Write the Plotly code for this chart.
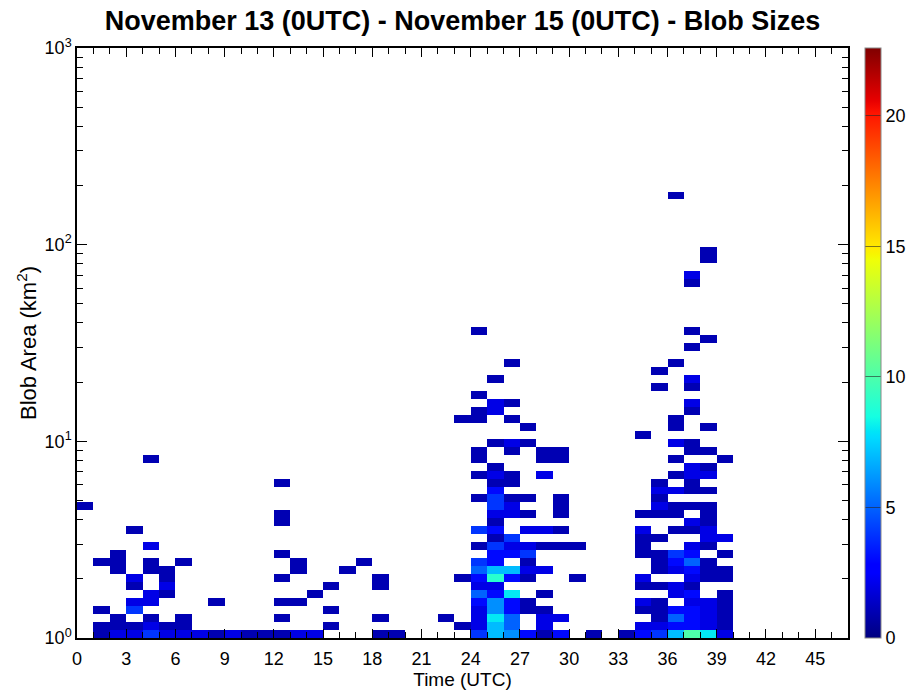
import numpy as np
import plotly.graph_objects as go

# Histogram grid: 1-hour time bins, 74 log-spaced area bins from 1 to 1000 km^2
N_HOURS = 47
area_edges = np.logspace(0, 3, 75)
hour_edges = np.arange(N_HOURS + 1)

# Occupied cells: for each active hour, the area-bin indices and blob counts
active_hours = [0, 1, 2, 3, 4, 5, 6, 7, 8, 9, 10, 11, 12, 13, 14, 15, 16, 17, 18, 19,
                22, 23, 24, 25, 26, 27, 28, 29, 30, 31,
                33, 34, 35, 36, 37, 38, 39]

area_bins = [
    [16],
    [0, 1, 3, 9],
    [0, 1, 2, 8, 9, 10],
    [0, 1, 3, 4, 6, 7, 13],
    [0, 1, 2, 4, 5, 8, 9, 11, 22],
    [0, 1, 5, 6, 7, 8],
    [0, 1, 2, 9],
    [0],
    [0, 4],
    [0],
    [0],
    [0],
    [0, 2, 4, 7, 10, 14, 15, 19],
    [0, 4, 8, 9],
    [0, 5],
    [1, 3, 6],
    [8],
    [9],
    [0, 2, 6, 7],
    [0],
    [2],
    [1, 7, 27],
    [0, 1, 2, 3, 4, 5, 6, 7, 8, 9, 11, 13, 17, 20, 22, 23, 27, 28, 30, 38],
    [0, 1, 2, 3, 4, 5, 6, 7, 8, 9, 10, 11, 12, 13, 14, 15, 16, 17, 18, 19, 20, 21, 24, 28, 29, 32],
    [0, 1, 2, 3, 4, 5, 7, 8, 10, 11, 12, 15, 16, 17, 19, 20, 23, 24, 27, 29, 34],
    [0, 3, 4, 7, 8, 9, 10, 11, 13, 15, 17, 24, 26],
    [0, 1, 2, 3, 5, 8, 11, 13, 20, 22, 23],
    [0, 2, 11, 13, 15, 16, 17, 22, 23],
    [7, 11],
    [0],
    [0],
    [0, 1, 3, 4, 6, 7, 10, 11, 12, 13, 15, 25],
    [0, 1, 2, 3, 4, 6, 8, 9, 10, 12, 15, 16, 17, 18, 19, 31, 33],
    [0, 1, 2, 3, 5, 6, 8, 9, 10, 13, 15, 16, 18, 20, 22, 24, 26, 27, 34, 55],
    [0, 1, 2, 3, 4, 5, 6, 7, 8, 9, 10, 11, 13, 14, 16, 18, 19, 20, 21, 23, 24, 28, 29, 31, 32, 36, 38, 44, 45],
    [0, 1, 2, 3, 4, 7, 8, 9, 11, 12, 13, 14, 15, 16, 18, 20, 21, 23, 26, 37, 47, 48],
    [0, 1, 2, 3, 4, 5, 7, 8, 10, 12, 22],
]

blob_counts = [
    [1],
    [1, 1, 1, 1],
    [2, 1, 1, 1, 1, 1],
    [2, 1, 4, 2, 1, 2, 1],
    [4, 2, 1, 2, 2, 1, 1, 2, 1],
    [2, 1, 1, 2, 1, 1],
    [2, 1, 1, 1],
    [2],
    [1, 1],
    [2],
    [1],
    [1],
    [1, 1, 1, 1, 1, 1, 1, 1],
    [2, 1, 1, 1],
    [2, 1],
    [1, 1, 1],
    [1],
    [1],
    [1, 1, 1, 1],
    [1],
    [1],
    [1, 1, 1],
    [4, 2, 2, 2, 3, 5, 2, 3, 5, 4, 1, 4, 1, 1, 1, 1, 1, 1, 1, 1],
    [7, 7, 8, 6, 6, 3, 2, 9, 7, 3, 3, 4, 1, 3, 1, 2, 4, 4, 3, 1, 2, 1, 1, 2, 2, 1],
    [6, 5, 5, 3, 3, 8, 3, 7, 3, 2, 4, 2, 2, 1, 1, 1, 1, 2, 1, 1, 1],
    [3, 1, 1, 1, 2, 1, 4, 2, 2, 1, 1, 1, 1],
    [1, 2, 2, 1, 1, 2, 1, 2, 2, 1, 1],
    [3, 2, 1, 1, 1, 1, 1, 1, 1],
    [1, 1],
    [1],
    [1],
    [3, 2, 1, 2, 1, 2, 1, 1, 1, 2, 1, 1],
    [4, 2, 1, 1, 1, 1, 1, 1, 1, 1, 1, 2, 1, 2, 1, 1, 1],
    [7, 3, 5, 3, 2, 2, 2, 3, 4, 1, 1, 1, 2, 1, 1, 2, 1, 1, 1, 1],
    [10, 3, 3, 3, 2, 3, 1, 2, 3, 5, 3, 2, 1, 2, 1, 1, 1, 2, 2, 1, 1, 1, 2, 1, 2, 1, 1, 1, 2],
    [8, 2, 2, 2, 2, 1, 1, 1, 1, 2, 2, 1, 1, 1, 1, 2, 1, 1, 1, 1, 1, 1],
    [2, 1, 1, 1, 1, 1, 1, 1, 1, 2, 1],
]

x_tick_vals = list(range(0, 46, 3))
y_tick_vals = [1, 10, 100, 1000]
y_tick_text = ["10<sup>0</sup>", "10<sup>1</sup>", "10<sup>2</sup>", "10<sup>3</sup>"]
cbar_ticks = [0, 5, 10, 15, 20]
COUNT_MAX = 22.6

# Empty cells stay blank (None)
z = [[None] * N_HOURS for _ in range(len(area_edges) - 1)]
for hour, bins, counts in zip(active_hours, area_bins, blob_counts):
    for b, c in zip(bins, counts):
        z[b][hour] = c

# Jet-style colour table built from its piecewise-linear channel definitions
def _channel(points, s):
    xs, vs = zip(*points)
    return float(np.interp(s, xs, vs))

red_pts = [(0, 0), (0.35, 0), (0.66, 1), (0.89, 1), (1, 0.5)]
green_pts = [(0, 0), (0.125, 0), (0.375, 1), (0.64, 1), (0.91, 0), (1, 0)]
blue_pts = [(0, 0.5), (0.11, 1), (0.34, 1), (0.65, 0), (1, 0)]
stops = sorted({p for pts in (red_pts, green_pts, blue_pts) for p, _ in pts})
jet = [[s, "rgb({:d},{:d},{:d})".format(
    round(255 * _channel(red_pts, s)),
    round(255 * _channel(green_pts, s)),
    round(255 * _channel(blue_pts, s)))] for s in stops]

FONT = "Liberation Sans, Arial, sans-serif"

fig = go.Figure(go.Heatmap(
    x=hour_edges,
    y=area_edges,
    z=z,
    zmin=0,
    zmax=COUNT_MAX,
    colorscale=jet,
    hoverongaps=False,
    colorbar=dict(
        x=1.022, xanchor="left", xpad=0,
        y=0.5, yanchor="middle", len=1.0, lenmode="fraction",
        ypad=0,
        thickness=16,
        outlinewidth=1, outlinecolor="#888888",
        tickvals=cbar_ticks,
        ticks="inside", ticklen=16, tickwidth=1, tickcolor="rgba(40,40,40,0.6)",
        tickfont=dict(family=FONT, size=18, color="black"),
    ),
))

axis_common = dict(
    showline=True, linecolor="black", linewidth=1.5,
    mirror="ticks", ticks="inside", tickcolor="black", tickwidth=1.2,
    showgrid=False, zeroline=False,
    tickfont=dict(family=FONT, size=18, color="black"),
)

fig.update_xaxes(
    range=[0, N_HOURS],
    tickvals=x_tick_vals,
    ticklen=9,
    ticklabelstandoff=4,
    minor=dict(dtick=1, tick0=0, ticks="inside", ticklen=6, tickcolor="black", tickwidth=1.2),
    title=dict(text="Time (UTC)", font=dict(family=FONT, size=19, color="black"), standoff=2),
    **axis_common,
)

minor_y = [m * 10 ** d for d in range(3) for m in range(2, 10)]
fig.update_yaxes(
    type="log",
    range=[0, 3],
    tickvals=y_tick_vals,
    ticktext=y_tick_text,
    ticklen=10,
    minor=dict(tickvals=minor_y, ticks="inside", ticklen=6, tickcolor="black", tickwidth=1.2),
    title=dict(text="Blob Area (km<sup>2</sup>)", font=dict(family=FONT, size=22, color="black"), standoff=2),
    **axis_common,
)

fig.update_layout(
    width=907, height=692,
    margin=dict(l=77, r=59, t=48, b=54, autoexpand=False),
    paper_bgcolor="white", plot_bgcolor="white",
    title=dict(
        text="<b>November 13 (0UTC) - November 15 (0UTC) - Blob Sizes</b>",
        x=0.5, xanchor="center", xref="paper", y=0.97, yanchor="middle",
        font=dict(family=FONT, size=27, color="black"),
    ),
    font=dict(family=FONT, color="black"),
)

fig.write_html("out.html")
